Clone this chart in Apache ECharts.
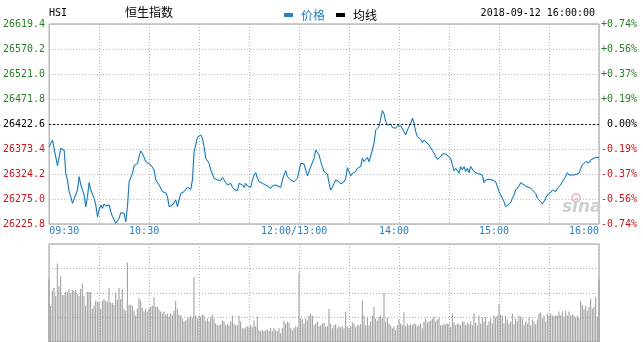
<!DOCTYPE html>
<html><head><meta charset="utf-8">
<script src="https://cdn.jsdelivr.net/npm/echarts@6/dist/echarts.min.js"></script>
<style>html,body{margin:0;padding:0;background:#fff}#c{width:643px;height:342px}</style>
</head><body><div id="c"></div>
<script>
const PREV_CLOSE = 26422.6;
const STEP = 49.2;
const symbolName = 'HSI';
const indexName = '恒生指数';
const timeStamp = '2018-09-12 16:00:00';
const seriesNames = ['价格', '均线'];

// trading minutes since 09:30 (12:00 and 13:00 share one slot)
const priceMinutes = [0,2,3,5,6,7,8,9,10,11,12,13,14,15,17,18,19,21,22,23,24,25,27,28,29,30,31,32,33,34,36,37,38,40,41,42,43,45,46,47,48,50,51,53,54,55,56,58,59,61,62,63,64,66,68,70,71,72,74,76,77,79,81,83,85,86,87,88,89,90,91,92,93,94,95,96,97,99,101,102,103,104,105,106,107,109,110,111,112,113,114,115,116,117,118,119,120,121,122,123,124,125,126,128,130,131,133,134,135,136,137,139,140,141,142,143,145,146,147,149,150,151,152,153,154,155,156,157,159,160,161,162,163,164,165,167,168,169,170,171,172,174,175,177,178,179,180,181,182,184,185,186,187,188,189,191,192,193,194,195,196,197,198,199,200,201,202,203,205,206,207,208,209,210,211,212,213,214,215,216,217,218,219,220,221,223,224,225,226,228,229,231,232,233,235,236,238,239,241,242,243,244,246,247,248,249,250,251,252,253,254,255,257,258,260,261,262,264,265,266,267,268,269,270,271,272,273,274,275,277,278,279,280,282,283,284,286,287,289,290,292,293,295,296,297,298,299,301,302,304,305,307,308,310,311,312,313,315,316,318,319,320,322,323,324,325,326,328,329,330];
const priceValues = [26378.0,26391.1,26387.8,26340.6,26358.3,26374.7,26378.0,26371.4,26325.5,26312.4,26289.4,26279.6,26266.5,26263.2,26292.7,26318.9,26302.5,26282.9,26259.9,26279.6,26307.1,26292.7,26276.3,26263.2,26240.2,26253.4,26263.2,26256.6,26265.2,26261.2,26263.2,26250.1,26240.2,26227.1,26225.8,26237.0,26248.1,26246.8,26230.4,26259.9,26309.1,26325.5,26340.6,26345.2,26358.3,26369.5,26364.9,26348.5,26351.8,26341.9,26345.2,26332.1,26312.4,26302.5,26289.4,26287.5,26279.6,26259.9,26263.2,26273.0,26259.9,26286.2,26289.4,26298.0,26294.0,26312.4,26368.2,26371.4,26396.4,26393.1,26401.0,26394.4,26378.0,26355.0,26357.0,26345.2,26332.1,26315.7,26312.4,26315.7,26311.1,26317.6,26312.4,26307.1,26302.5,26305.8,26298.0,26294.0,26296.0,26291.4,26305.8,26309.1,26302.5,26298.0,26305.8,26300.6,26302.5,26298.0,26312.4,26322.2,26326.8,26315.7,26309.1,26305.8,26302.5,26299.3,26296.0,26300.6,26298.0,26302.5,26300.6,26298.0,26312.4,26322.2,26330.8,26318.9,26312.4,26315.7,26309.1,26315.7,26315.7,26345.2,26346.5,26343.9,26332.1,26320.3,26318.9,26338.6,26355.0,26371.4,26368.2,26361.6,26348.5,26338.6,26328.8,26324.2,26305.8,26292.7,26298.0,26305.8,26312.4,26309.1,26304.5,26309.1,26315.7,26336.7,26328.8,26320.3,26325.5,26328.8,26335.4,26332.1,26338.6,26355.0,26348.5,26357.0,26348.5,26359.6,26361.6,26384.6,26410.8,26414.1,26417.3,26433.8,26448.8,26442.3,26427.2,26420.6,26422.6,26416.0,26417.3,26414.1,26418.7,26420.6,26418.7,26422.6,26407.5,26401.0,26410.8,26417.3,26423.9,26433.8,26423.9,26407.5,26397.7,26392.4,26385.9,26391.1,26387.8,26381.3,26378.0,26364.9,26358.3,26353.1,26358.3,26363.6,26363.6,26361.6,26355.0,26341.9,26330.8,26335.4,26325.5,26338.6,26332.1,26338.6,26328.8,26335.4,26326.8,26338.6,26335.4,26328.8,26325.5,26326.8,26322.2,26307.1,26312.4,26313.7,26315.7,26312.4,26315.7,26309.1,26305.8,26289.4,26282.9,26279.6,26269.7,26259.9,26263.2,26267.8,26276.3,26282.9,26292.7,26300.6,26307.1,26304.5,26300.6,26298.0,26296.0,26294.0,26286.2,26276.3,26269.7,26265.2,26269.7,26276.3,26282.9,26287.5,26292.7,26289.4,26296.0,26302.5,26309.1,26318.9,26326.8,26322.2,26324.2,26322.2,26320.3,26325.5,26335.4,26341.9,26348.5,26351.8,26346.5,26351.8,26353.1,26357.0,26357.0,26356.0];

// per-minute volume (relative units, 100 = top of volume panel)
const volumeValues = [64,37,52,55,47,80,57,67,48,
48,51,51,54,50,53,52,53,49,47,
54,60,47,37,51,51,51,34,37,42,
41,41,34,42,44,42,41,55,40,40,
38,51,43,55,44,54,34,32,81,38,
38,37,32,27,34,45,42,35,31,34,
31,34,36,37,46,36,36,33,31,29,
31,28,29,26,29,27,32,42,34,28,
27,24,21,22,24,25,27,25,66,27,
24,27,26,28,27,22,24,21,25,28,
24,19,17,17,18,22,21,17,19,17,
21,27,19,17,17,27,21,14,14,15,
16,15,17,15,22,16,26,12,11,12,
11,12,13,11,14,11,14,12,11,14,
9,14,22,19,21,20,14,12,14,16,
15,71,24,23,19,24,22,27,29,27,
17,19,21,16,17,19,20,16,16,34,
19,14,17,18,14,16,15,16,14,31,
16,14,16,20,19,15,17,17,18,42,
27,17,25,17,21,27,36,24,22,26,
27,24,50,21,25,19,17,14,16,12,
17,23,19,17,30,16,19,17,18,17,
19,18,16,17,19,14,21,24,20,21,
22,24,26,21,23,25,17,17,19,18,
19,19,15,29,20,17,19,18,17,21,
21,17,20,18,21,17,29,20,17,27,
19,25,21,26,17,21,24,19,27,25,
27,39,28,27,19,27,23,19,21,29,
18,24,21,27,26,24,17,21,19,25,
17,23,21,18,23,29,30,24,27,21,
29,27,29,27,26,27,27,31,27,31,
26,32,27,31,27,28,27,25,27,25,
42,38,34,37,32,36,44,34,36,
46,26,64];

const tickMinutes = [0,60,150,210,270,330];
const tickLabels = ['09:30','10:30','12:00/13:00','14:00','15:00','16:00'];

const MONO = 'DejaVu Sans Mono';
const CJK = 'Noto Sans CJK SC';
const GREEN = '#2a7d2a', RED = '#c8161d', BLUE = '#2a7fbf', LINE = '#1b6ea6';
const GRIDC = '#b4b4b4', BORDER = '#9a9a9a';

const chart = echarts.init(document.getElementById('c'), null, {renderer: 'canvas'});

function signColor(v){ v = parseFloat(v); return v > 0.05 ? GREEN : (v < -0.05 ? RED : '#000'); }

const dotted = {show: true, lineStyle: {color: GRIDC, type: [1, 2], width: 1}};

chart.setOption({
  animation: false,
  backgroundColor: '#fff',
  grid: [
    {left: 49, top: 24, width: 550, height: 200, show: true, borderColor: BORDER, borderWidth: 1, backgroundColor: 'transparent'},
    {left: 49, top: 244, width: 550, height: 100, show: true, borderColor: BORDER, borderWidth: 1, backgroundColor: 'transparent'}
  ],
  legend: {
    left: 279, top: 4, icon: 'rect', itemWidth: 9, itemHeight: 4, itemGap: 11,
    textStyle: {fontFamily: CJK, fontSize: 12, padding: [0, 0, 0, 3]},
    data: [
      {name: seriesNames[0], textStyle: {color: BLUE}},
      {name: seriesNames[1], textStyle: {color: '#000'}}
    ],
    selectedMode: false
  },
  xAxis: [
    {
      gridIndex: 0, type: 'value', min: 0, max: 330, interval: 30,
      axisLine: {show: false}, axisTick: {show: false}, splitLine: dotted,
      axisLabel: {
        show: true, margin: 2, fontFamily: MONO, fontSize: 10, color: BLUE,
        showMinLabel: true, showMaxLabel: true,
        alignMinLabel: 'left', alignMaxLabel: 'right',
        formatter: function (v) {
          const k = tickMinutes.indexOf(Math.round(v));
          if (k < 0) return '';
          const edge = (k === 0 || k === tickMinutes.length - 1);
          return (edge ? '{e|' : '{m|') + tickLabels[k] + '}';
        },
        rich: {
          e: {fontFamily: MONO, fontSize: 10, color: BLUE},
          m: {fontFamily: MONO, fontSize: 10, color: BLUE, padding: [0, 10, 0, 0]}
        }
      }
    },
    {
      gridIndex: 1, type: 'value', min: 0, max: 330, interval: 30,
      axisLine: {show: false}, axisTick: {show: false}, axisLabel: {show: false}, splitLine: dotted
    }
  ],
  yAxis: [
    {
      gridIndex: 0, type: 'value', position: 'left',
      min: -4 * STEP, max: 4 * STEP, interval: STEP,
      axisLine: {show: false}, axisTick: {show: false}, splitLine: dotted,
      axisLabel: {
        margin: 4, fontFamily: MONO, fontSize: 10, padding: [0, 0, 5, 0],
        formatter: v => (PREV_CLOSE + v).toFixed(1),
        color: v => signColor(v)
      }
    },
    {
      gridIndex: 0, type: 'value', position: 'right',
      min: -4 * STEP, max: 4 * STEP, interval: STEP,
      axisLine: {show: false}, axisTick: {show: false}, splitLine: {show: false},
      axisLabel: {
        margin: 38, align: 'right', fontFamily: MONO, fontSize: 10, padding: [0, 0, 5, 0],
        formatter: function (v) {
          const p = v / PREV_CLOSE * 100;
          if (Math.abs(p) < 0.005) return '0.00%';
          return (p > 0 ? '+' : '') + p.toFixed(2) + '%';
        },
        color: v => signColor(v)
      }
    },
    {
      gridIndex: 1, type: 'value', min: 0, max: 100, interval: 25,
      axisLine: {show: false}, axisTick: {show: false}, axisLabel: {show: false}, splitLine: dotted
    }
  ],
  graphic: [
    {type: 'text', left: 49, top: 8, style: {text: symbolName, font: '10px ' + MONO, fill: '#000'}},
    {type: 'text', left: 125, top: 6, style: {text: indexName, font: '12px "' + CJK + '"', fill: '#000'}},
    {type: 'text', right: 48, top: 8, style: {text: timeStamp, font: '10px ' + MONO, fill: '#000'}},
    {type: 'circle', shape: {cx: 576, cy: 198, r: 4}, style: {fill: 'none', stroke: '#f3c3c8', lineWidth: 2}, silent: true},
    {type: 'text', left: 562, top: 199, style: {text: 'sina', font: 'italic bold 17px "DejaVu Sans"', fill: '#cfcfcf'}, silent: true}
  ],
  series: [
    {
      name: seriesNames[0], type: 'line', xAxisIndex: 0, yAxisIndex: 0,
      showSymbol: false, symbol: 'none', color: BLUE,
      lineStyle: {color: LINE, width: 1, shadowColor: 'rgba(150,228,255,0.8)', shadowBlur: 2},
      data: priceMinutes.map((m, i) => [m, +(priceValues[i] - PREV_CLOSE).toFixed(1)]),
      markLine: {
        silent: true, symbol: ['none', 'none'], label: {show: false},
        lineStyle: {color: '#000', type: [2, 2], width: 1},
        data: [{yAxis: 0}]
      },
      z: 3
    },
    {
      name: seriesNames[1], type: 'line', xAxisIndex: 0, yAxisIndex: 0,
      showSymbol: false, color: '#000', lineStyle: {color: '#000', width: 1}, data: []
    },
    {
      name: '成交量', type: 'bar', xAxisIndex: 1, yAxisIndex: 2, barWidth: 1,
      itemStyle: {color: '#999'},
      data: volumeValues.map((v, i) => [i, v])
    }
  ]
});
</script></body></html>
